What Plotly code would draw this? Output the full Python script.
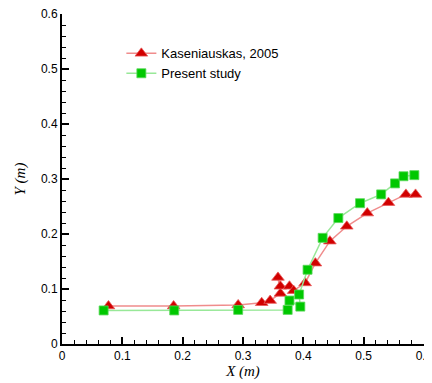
import plotly.graph_objects as go

kas_x = [0.077, 0.185, 0.292, 0.331, 0.345, 0.362, 0.358, 0.362, 0.377, 0.384, 0.403, 0.420, 0.444, 0.472, 0.506, 0.541, 0.570, 0.586]
kas_y = [0.069, 0.069, 0.071, 0.075, 0.079, 0.092, 0.121, 0.105, 0.105, 0.097, 0.111, 0.147, 0.187, 0.214, 0.238, 0.257, 0.272, 0.272]

pres_x = [0.069, 0.186, 0.292, 0.374, 0.377, 0.395, 0.393, 0.407, 0.432, 0.458, 0.494, 0.529, 0.552, 0.566, 0.584]
pres_y = [0.061, 0.061, 0.062, 0.062, 0.079, 0.068, 0.090, 0.135, 0.193, 0.229, 0.256, 0.272, 0.292, 0.305, 0.307]

ticks = [0, 0.1, 0.2, 0.3, 0.4, 0.5, 0.6]
tick_text = ["0", "0.1", "0.2", "0.3", "0.4", "0.5", "0.6"]

fig = go.Figure()
fig.add_trace(go.Scatter(
    x=kas_x, y=kas_y, mode="lines+markers", name="Kaseniauskas, 2005",
    line=dict(color="#f08c8c", width=1.5),
    marker=dict(symbol="triangle-up", size=11, color="#d10000",
                line=dict(color="#e85a5a", width=0.8)),
))
fig.add_trace(go.Scatter(
    x=pres_x, y=pres_y, mode="lines+markers", name="Present study",
    line=dict(color="#98e898", width=1.5),
    marker=dict(symbol="square", size=9, color="#00c800",
                line=dict(color="#5ad85a", width=0.8)),
))

axis_common = dict(
    range=[0, 0.6], tickvals=ticks, ticktext=tick_text,
    showline=True, linecolor="black", linewidth=2,
    ticks="inside", ticklen=7, tickwidth=2, tickcolor="black",
    minor=dict(dtick=0.02, ticks="inside", ticklen=4, tickwidth=1, tickcolor="black"),
    showgrid=False, zeroline=False, mirror=False, automargin=False,
    ticklabeloverflow="allow",
    tickfont=dict(family="Liberation Sans, Arial", size=12, color="black"),
)

# page body has an 8px default margin; figure is sized to fit the window
fig.update_layout(
    width=424, height=375,
    margin=dict(l=54, r=8, t=6, b=39),
    paper_bgcolor="white", plot_bgcolor="white",
    xaxis=dict(**axis_common,
               title=dict(text="<i>X (m)</i>", standoff=2,
                          font=dict(family="Liberation Serif, Times New Roman", size=15, color="black"))),
    yaxis=dict(**axis_common,
               title=dict(text="<i>Y (m)</i>", standoff=12,
                          font=dict(family="Liberation Serif, Times New Roman", size=15, color="black"))),
    legend=dict(x=0.164, y=0.926, xanchor="left", yanchor="top",
                bgcolor="rgba(0,0,0,0)", borderwidth=0,
                font=dict(family="Liberation Sans, Arial", size=13, color="black"),
                tracegroupgap=0, itemwidth=30),
    showlegend=True,
)

fig.write_html("out.html")
